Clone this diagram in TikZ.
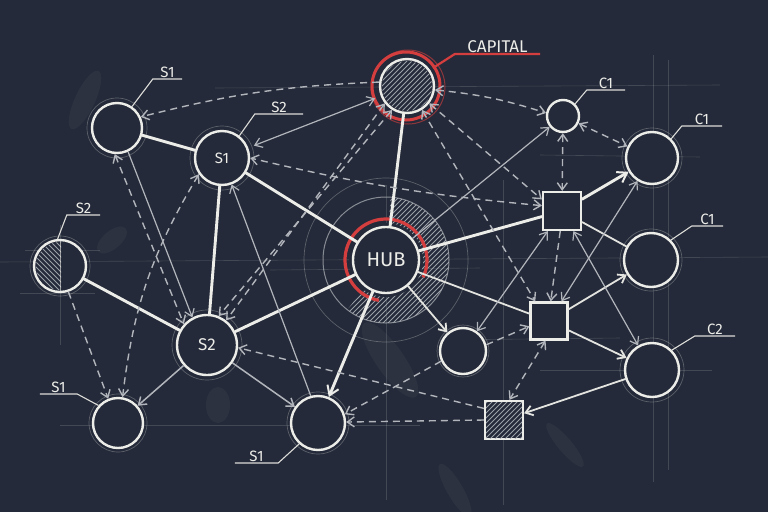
\documentclass[tikz,border=0pt]{standalone}
\usepackage{fontspec}
\setmainfont{Fira Sans}
\usetikzlibrary{arrows.meta,calc}
\definecolor{bgc}{RGB}{36,42,57}
\definecolor{chalk}{RGB}{236,236,232}
\definecolor{chalkg}{RGB}{178,182,188}
\definecolor{chalkred}{RGB}{212,62,62}
\begin{document}
\begin{tikzpicture}[x=1pt,y=-1pt,
  cnode/.style={circle,draw=chalk,line width=2.4pt,fill=bgc,inner sep=0pt,text=chalk},
  snode/.style={rectangle,draw=chalk,line width=2.2pt,fill=bgc,inner sep=0pt},
  halo/.style={draw=chalk,line width=0.7pt,opacity=0.28},
  guide/.style={draw=white,line width=0.6pt,opacity=0.14},
  smudge/.style={fill=white,opacity=0.04},
  hatch/.style={draw=chalkg,line width=0.9pt,opacity=0.85},
  thickl/.style={draw=chalk,line width=2.9pt,line cap=round},
  medl/.style={draw=chalk!92!gray,line width=1.8pt,line cap=round},
  thinl/.style={draw=chalkg,line width=1.2pt},
  dashl/.style={draw=chalkg,line width=1.4pt,dash pattern=on 7pt off 5pt},
  tip/.style={-{Straight Barb[length=7pt,width=10pt]}},
  btip/.style={{Straight Barb[length=7pt,width=10pt]}-{Straight Barb[length=7pt,width=10pt]}},
  bigtip/.style={-{Straight Barb[length=9pt,width=12pt,line width=2pt]}},
  lab/.style={text=chalk,font=\fontsize{15}{15}\selectfont,anchor=south,inner sep=1.5pt},
  leader/.style={draw=chalk!85!gray,line width=1.1pt}
]
\fill[bgc] (0,0) rectangle (768,512);
\useasboundingbox (0,0) rectangle (768,512);

% guide lines
\draw[guide] (0,262) -- (768,257);
\draw[guide] (215,88) -- (720,85);
\draw[guide] (653,55) -- (653,482);
\draw[guide] (668,60) -- (668,470);
\draw[guide] (503,180) -- (503,505);
\draw[guide] (386,185) -- (386,500);
\draw[guide] (540,370) -- (712,370);
\draw[guide] (60,425) -- (420,425);
\draw[guide] (540,155) -- (700,157);
\draw[guide] (60,225) -- (60,345);
\draw[guide] (25,250) -- (100,250);
\draw[guide] (20,293) -- (95,293);
\draw[guide] (270,270) -- (480,268);
\draw[guide] (440,340) -- (620,338);

% smudges
\fill[smudge,rotate around={65:(85,100)}] (85,100) ellipse (32 and 10);
\fill[smudge,rotate around={40:(112,240)}] (112,240) ellipse (18 and 9);
\fill[smudge,rotate around={-55:(390,360)}] (390,360) ellipse (45 and 14);
\fill[smudge,rotate around={-50:(565,445)}] (565,445) ellipse (28 and 7);
\fill[smudge,rotate around={-60:(455,490)}] (455,490) ellipse (30 and 8);
\fill[smudge] (218,405) ellipse (12 and 18);

% hub decoration
\draw[halo] (386,260) circle (82);
\draw[draw=chalkg,line width=1pt,opacity=0.7] (386,260) circle (63);
\begin{scope}
  \clip (386,260) circle (63);
  \clip (386,260) -- (392,180) -- (480,180) -- (480,350) -- (320,345) -- cycle;
  \foreach \i in {-120,-115,...,120} \draw[hatch] (386+\i-70,260+70) -- ++(140,-140);
\end{scope}
\fill[bgc] (386,260) circle (37);
\draw[chalkred,line width=3.2pt] (386,260) ++(100:41) arc[start angle=100,end angle=385,radius=41];

% capital ring
\draw[chalkred,line width=3pt] (406,86) circle (34);
\draw[chalkred,line width=1pt,opacity=0.6] (408,87) circle (37);

% nodes
\node[cnode,minimum size=54pt] (cap) at (407,86) {};
\node[cnode,minimum size=66pt,font=\fontsize{20}{20}\selectfont] (hub) at (386,260) {HUB};
\node[cnode,minimum size=54pt,font=\fontsize{15}{15}\selectfont] (s1) at (222,158) {S1};
\node[cnode,minimum size=50pt] (tl) at (117,128) {};
\node[cnode,minimum size=52pt] (lc) at (60,266) {};
\node[cnode,minimum size=60pt,font=\fontsize{17}{17}\selectfont] (s2) at (207,345) {S2};
\node[cnode,minimum size=50pt] (bl) at (118,423) {};
\node[cnode,minimum size=54pt] (bc) at (318,423) {};
\node[cnode,minimum size=32pt] (c1s) at (563,116) {};
\node[cnode,minimum size=52pt] (c1a) at (652,158) {};
\node[snode,minimum size=38pt] (sq1) at (562,211) {};
\node[cnode,minimum size=54pt] (c1b) at (651,260) {};
\node[snode,minimum size=37pt] (sq2) at (549,321) {};
\node[cnode,minimum size=46pt] (sm) at (463,351) {};
\node[cnode,minimum size=54pt] (c2) at (652,370) {};
\node[snode,minimum size=38pt] (hsq) at (504,420) {};

% halos
\foreach \n/\r in {tl/30,s1/32,s2/35,bl/29,bc/31,c1a/30,c1b/31,c2/32,sm/26,lc/30}
  \draw[halo] (\n) circle (\r);

% hatches inside nodes
\begin{scope}
  \clip (407,86) circle (25);
  \foreach \i in {-60,-55,...,60} \draw[hatch] (407+\i-40,86+40) -- ++(80,-80);
\end{scope}
\begin{scope}
  \clip (30,230) rectangle (61,300);
  \clip (60,266) circle (24);
  \foreach \i in {-60,-55,...,40} \draw[hatch] (60+\i-40,266-40) -- ++(80,80);
\end{scope}
\begin{scope}
  \clip (486,402) rectangle (522,438);
  \foreach \i in {-50,-45,...,50} \draw[hatch] (504+\i-30,420+30) -- ++(60,-60);
\end{scope}
\draw[chalk,line width=1pt,opacity=0.6] (60,240) -- (60,292);

% thick solid connectors
\draw[thickl] (tl) -- (s1);
\draw[thickl] (s1) -- (hub);
\draw[thickl] (s1) -- (s2);
\draw[thickl] (cap) -- (hub);
\draw[thickl] (lc) -- (s2);
\draw[thickl] (s2) -- (hub);
\draw[thickl] (hub) -- (sq1);
\draw[thickl,bigtip] (hub) -- (bc);
\draw[thickl,bigtip] (sq1) -- (c1a);

% medium solid connectors
\draw[medl] (hub) -- (sq2);
\draw[medl,tip] (hub) -- (sm);
\draw[medl] (sq1) -- (c1b);
\draw[medl,tip] (sq2) -- (c1b);
\draw[medl,tip] (sq2) -- (c2);
\draw[medl,tip] (c2) -- (hsq);
\draw[thinl,line width=1.5pt,tip] (s2) -- (bl);
\draw[thinl,line width=1.5pt,tip] (s2) -- (bc);

% thin solid connectors
\draw[thinl,btip,shorten <=6pt,shorten >=6pt] (s1) -- (cap);
\draw[thinl,tip] (tl.-65) -- (s2.118);
\draw[thinl,tip] (bc.105) -- (s1.-70);
\draw[thinl,btip] (sm) -- (sq1);
\draw[thinl,btip] (sq2) -- (c1a);
\draw[thinl,btip] (sq1) -- (c2);
\draw[thinl,tip] (hub) -- (c1s);

% dashed connectors
\draw[dashl,tip] (cap.172) to[bend right=6] (tl.25);
\draw[dashl,btip] (cap.-8) to[bend left=6] (c1s.170);
\draw[dashl,btip] (c1s) -- (sq1);
\draw[dashl,btip] (c1s) -- (c1a);
\draw[dashl,btip] (sq1.165) to[bend left=4] (s1.0);
\draw[dashl,btip] (cap.218) -- (s2.52);
\draw[dashl,btip] (cap.238) -- (s2.68);
\draw[dashl,btip] (cap.-38) -- (sq1.150);
\draw[dashl,btip] (cap.-58) -- (sq2.125);
\draw[dashl,tip] (sq1.-95) -- (sq2.85);
\draw[dashl,tip] (sm.15) -- (sq2.195);
\draw[dashl,btip] (sq2.-100) -- (hsq.75);
\draw[dashl,tip] (hsq.180) -- (bc.2);
\draw[dashl,tip] (sm.205) -- (bc.18);
\draw[dashl,tip] (hsq.150) -- (s2.-5);
\draw[dashl,tip] (lc.-72) -- (bl.112);
\draw[dashl,btip] (s1.-145) to[bend right=12] (bl.80);
\draw[dashl,btip] (tl.-95) -- (s2.138);

% labels
\node[lab,minimum width=29pt] (ltl) at (167.5,79) {S1};
\draw[leader] (tl.55) -- (ltl.south west) -- (ltl.south east);
\node[lab,minimum width=48pt] (ls1) at (279,114) {S2};
\draw[leader] (s1.52) -- (ls1.south west) -- (ls1.south east);
\node[lab,minimum width=33pt] (llc) at (83.5,215) {S2};
\draw[leader] (lc.95) -- (llc.south west) -- (llc.south east);
\node[lab,minimum width=37pt] (lbl) at (58.5,394) {S1};
\draw[leader] (bl.138) -- (lbl.south east) -- (lbl.south west);
\node[lab,minimum width=43pt] (lbc) at (256.5,463) {S1};
\draw[leader] (bc.-132) -- (lbc.south east) -- (lbc.south west);
\node[lab,minimum width=38pt] (lc1s) at (606,90) {C1};
\draw[leader] (c1s.45) -- (lc1s.south west) -- (lc1s.south east);
\node[lab,minimum width=40pt] (lc1a) at (702,126) {C1};
\draw[leader] (c1a.45) -- (lc1a.south west) -- (lc1a.south east);
\node[lab,minimum width=31pt] (lc1b) at (707.5,226) {C1};
\draw[leader] (c1b.45) -- (lc1b.south west) -- (lc1b.south east);
\node[lab,minimum width=40pt] (lc2) at (715,336) {C2};
\draw[leader] (c2.45) -- (lc2.south west) -- (lc2.south east);
\node[lab,minimum width=85pt,font=\fontsize{17}{17}\selectfont] (lcap) at (497.5,54) {CAPITAL};
\draw[chalkred,line width=2.2pt] (433,68) -- (lcap.south west) -- (lcap.south east);
\end{tikzpicture}
\end{document}
